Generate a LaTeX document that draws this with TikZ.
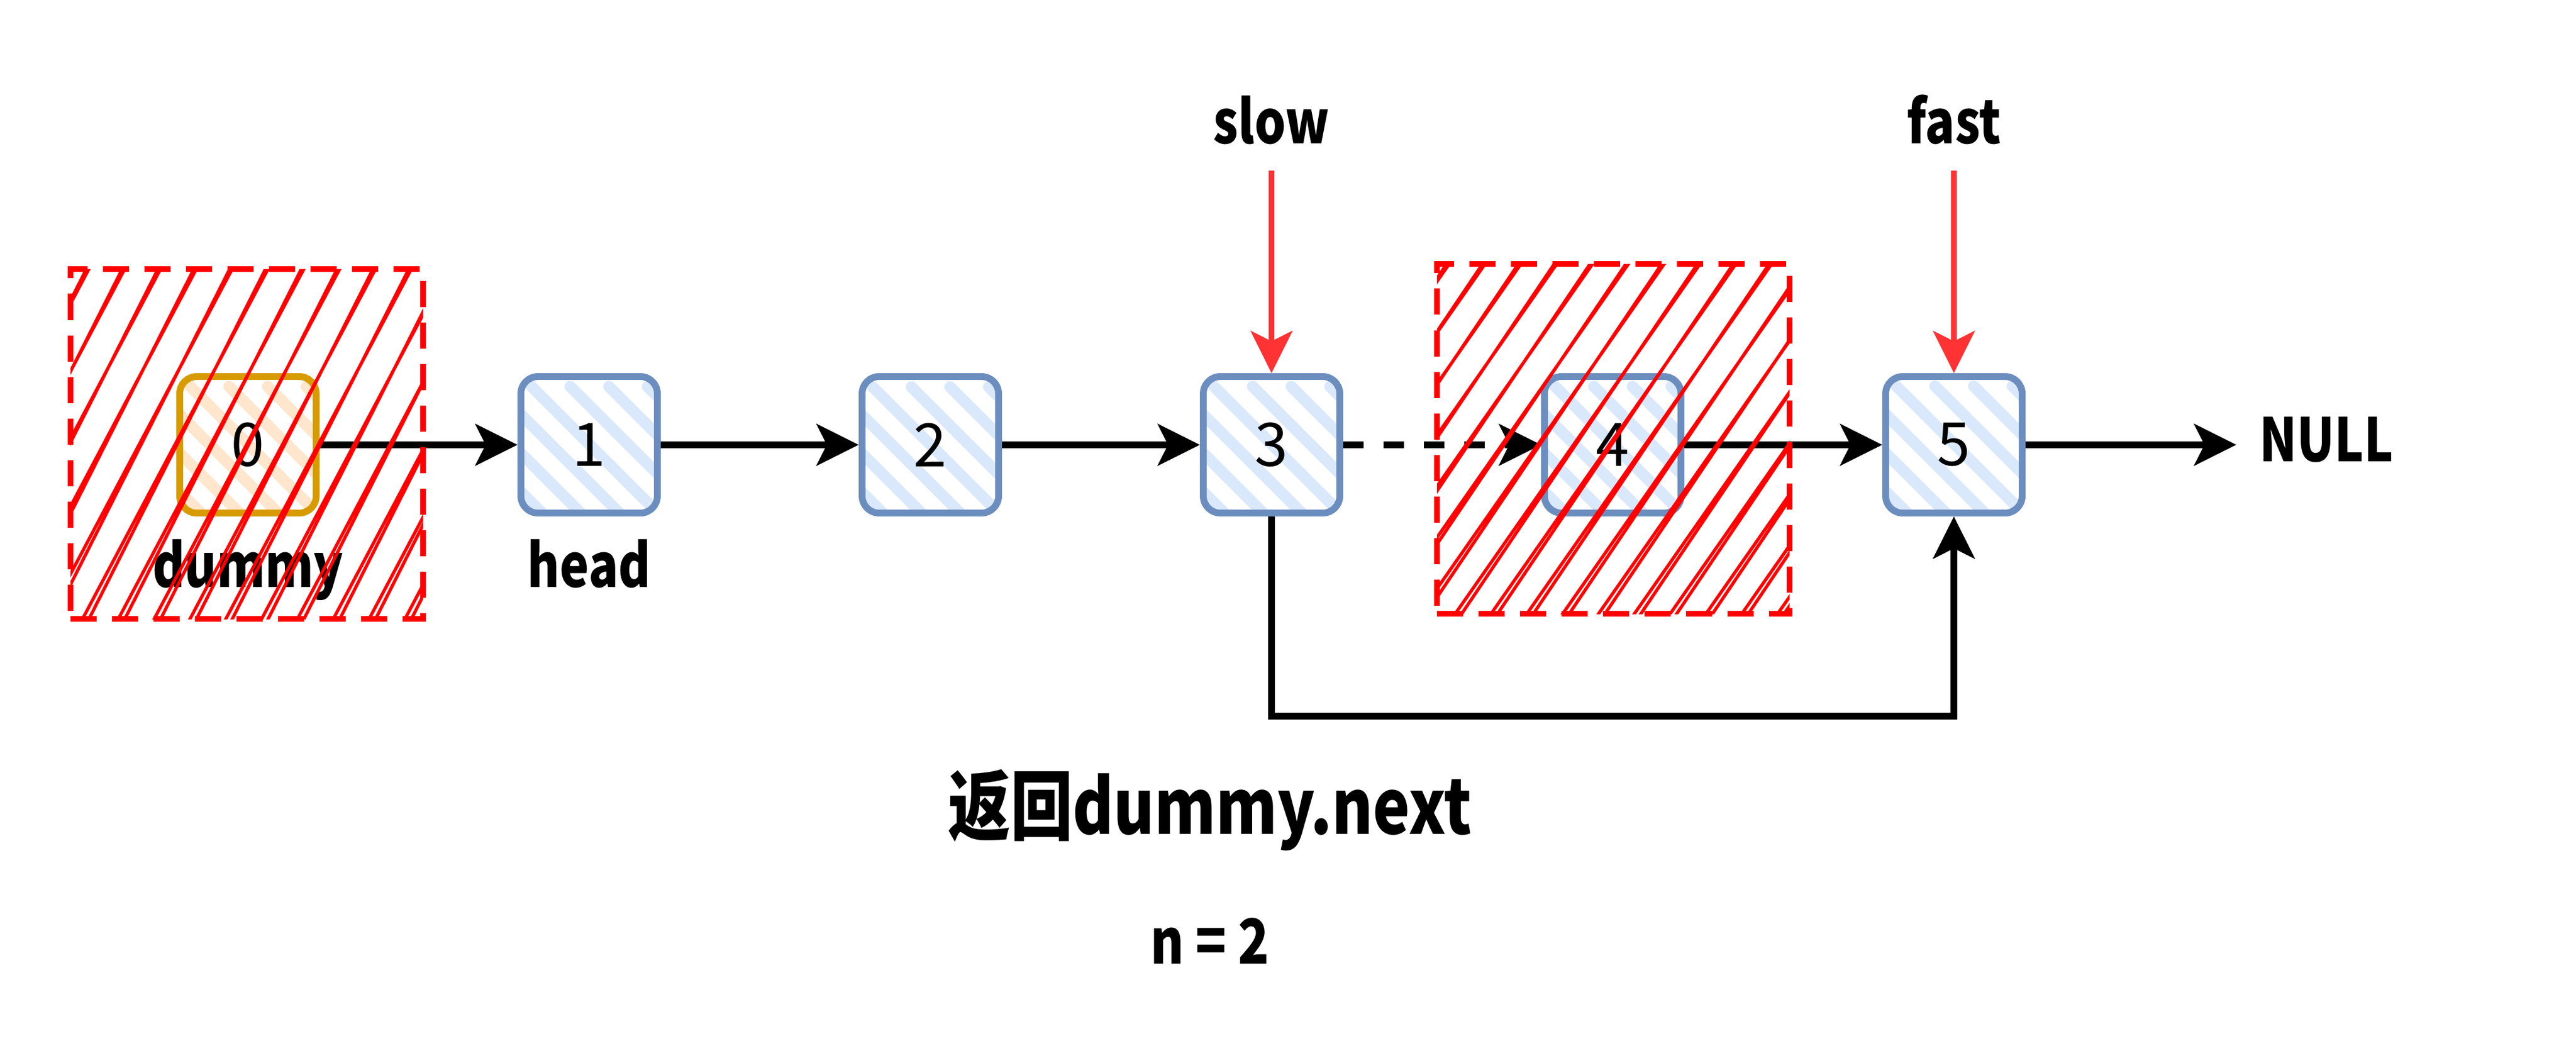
\documentclass[tikz,border=0pt]{standalone}
\usepackage{fontspec}
\setmainfont{Noto Sans CJK SC}
\newfontfamily\lblfamily{Noto Sans CJK SC}[FakeStretch=0.82]
\usetikzlibrary{arrows.meta}
\definecolor{cellline}{HTML}{6C8EBF}
\definecolor{cellfill}{HTML}{DAE8FC}
\definecolor{dummyline}{HTML}{D79B00}
\definecolor{dummyfill}{HTML}{FFE6CC}
\definecolor{cutred}{HTML}{FF0000}
\definecolor{ptrred}{HTML}{FF3333}
\newcommand{\lblfont}{\lblfamily\bfseries\fontsize{30pt}{36pt}\selectfont}

\begin{document}
\begin{tikzpicture}[
        >={Stealth[length=7.4mm,width=7.3mm,inset=1.8mm]},
        cell/.style 2 args={draw=#1, line width=0.12cm, rounded corners=0.3cm, minimum size=2.4cm, inner sep=0pt,
            font=\fontsize{30pt}{36pt}\selectfont,
            path picture={\foreach \k in {-4,...,4}
                \draw[#2, solid, line width=0.2cm, line cap=round, shift={(path picture bounding box.center)}]
                    (\k*0.68-1.4,1.4) -- (\k*0.68+1.4,-1.4);}},
        cutbox/.style={draw=cutred, line width=0.1cm, dash pattern=on 0.46cm off 0.27cm,
            minimum width=6.2cm, minimum height=6.15cm, inner sep=0pt,
            path picture={\foreach \k in {-9,...,9}
                \draw[cutred, solid, line width=1.6pt, shift={(path picture bounding box.center)}]
                    (\k*0.63-#1,-3.3) -- (\k*0.63+#1,3.3)
                    (\k*0.63-#1+0.12,-3.3) -- (\k*0.63+#1-0.05,3.3);}},
        link/.style={->, line width=0.115cm},
        ptr/.style={->, ptrred, line width=0.1cm},
        lbl/.style={font=\lblfont, inner sep=0.45cm}
    ]
        \useasboundingbox (0,0) rectangle (45.3,18.6);

        % list cells
        \node[cell={dummyline}{dummyfill}] (n0) at (4.36,10.78) {0};
        \foreach \i in {1,...,5}
            \node[cell={cellline}{cellfill}] (n\i) at ({4.36+6*\i},10.78) {\i};

        % labels
        \node[lbl, anchor=base] (dummy) at (4.36,8.27) {dummy};
        \node[lbl, anchor=base] (head) at (10.36,8.27) {head};
        \node[lbl, anchor=base] (slow) at (22.36,16.07) {slow};
        \node[lbl, anchor=base] (fast) at (34.36,16.07) {fast};
        \node[lbl, anchor=base, inner xsep=0.4cm] (null) at (40.91,10.48) {NULL};
        \node[anchor=base, font=\lblfamily\bfseries\fontsize{38pt}{44pt}\selectfont] (ret) at (21.28,3.93) {返回dummy.next};
        \node[anchor=base, font=\lblfamily\bfseries\fontsize{31pt}{36pt}\selectfont] (n) at (21.28,1.65) {n = 2};

        % links
        \draw[link] (n0) -- (n1);
        \draw[link] (n1) -- (n2);
        \draw[link] (n2) -- (n3);
        \draw[link, dash pattern=on 0.36cm off 0.35cm] (n3) -- (n4);
        \draw[link] (n4) -- (n5);
        \draw[link] (n5) -- (n5 -| null.west);
        \coordinate (bend) at (22.36,6.01);
        \draw[link] (n3.south) -- (bend) -| (n5.south);

        % pointers
        \draw[ptr] (slow) -- (n3);
        \draw[ptr] (fast) -- (n5);

        % removed nodes
        \node[cutbox=1.75] (cut0) at (4.34,10.79) {};
        \node[cutbox=2.31] (cut4) at (28.37,10.88) {};
    \end{tikzpicture}
\end{document}
